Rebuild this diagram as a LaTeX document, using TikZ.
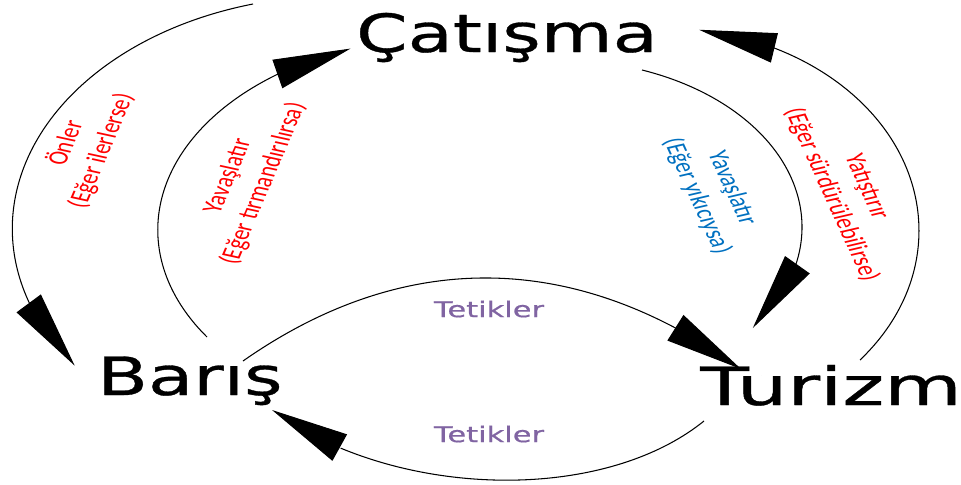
\documentclass[tikz,border=0pt]{standalone}
\usepackage{fontspec}
\setmainfont{Carlito}
\newfontfamily\bigfont{DejaVu Sans}[FakeBold=0.6]
\usetikzlibrary{arrows.meta,bending}
\definecolor{tetik}{HTML}{8064A2}
\definecolor{mavi}{HTML}{0070C0}

\tikzset{
  kavram/.style={font=\bigfont\fontsize{30}{36}\selectfont,xscale=1.4,inner sep=0pt,anchor=base},
  tetikci/.style={font=\bigfont\fontsize{12.4}{15}\selectfont,text=tetik,xscale=1.4,inner sep=0pt},
  etiket/.style={font=\fontsize{11.5}{15}\selectfont,align=center,inner sep=0pt,xscale=1.4},
  ok/.style={line width=0.6pt,-{Triangle[length=1.55cm,width=0.6cm]}},
}

\begin{document}
\begin{tikzpicture}[x=0.02cm,y=-0.02cm]
   \useasboundingbox (0,0) rectangle (961,484);
   \node[kavram] (catisma) at (507,52) {Çatışma};
   \node[kavram] (baris) at (190,395) {Barış};
   \node[kavram,xscale=1.08] (turizm) at (831,405) {Turizm};

   \coordinate (onler-bas) at (253,4);
   \coordinate (tirman-bas) at (207,337);
   \coordinate (yikici-bas) at (642,70);
   \coordinate (surdur-bas) at (860,360);
   \coordinate (baris-cikis) at (243,361);
   \coordinate (turizm-giris) at (741,369);
   \coordinate (turizm-cikis) at (704,421);
   \coordinate (baris-giris) at (272,410);

   \draw[ok] (onler-bas) arc[start angle=254.7,end angle=144,x radius=327,y radius=233];
   \draw[ok] (tirman-bas) arc[start angle=146.3,end angle=250,x radius=293,y radius=193];
   \draw[ok] (yikici-bas) arc[start angle=-70.2,end angle=37.2,x radius=242,y radius=167];
   \draw[ok] (surdur-bas) arc[start angle=39.6,end angle=-81.7,x radius=257,y radius=203];
   \draw[ok] (baris-cikis) .. controls (403,249) and (575,249) .. (turizm-giris);
   \draw[ok] (turizm-cikis) .. controls (600,505) and (392,498) .. (baris-giris);

   \node[etiket,text=red,rotate=73] (onler) at (83,147) {Önler\\(Eğer ilerlerse)};
   \node[etiket,text=red,rotate=73] (tirman) at (246,180) {Yavaşlatır\\(Eğer tırmandırılırsa)};
   \node[etiket,text=mavi,rotate=-72] (yikici) at (714,192) {Yavaşlatır\\(Eğer yıkıcıysa)};
   \node[etiket,text=red,rotate=-72] (surdur) at (848,191) {Yatıştırır\\(Eğer sürdürülebilirse)};
   \node[tetikci] (tetik-ust) at (489,309) {Tetikler};
   \node[tetikci] (tetik-alt) at (489,434) {Tetikler};
\end{tikzpicture}
\end{document}
